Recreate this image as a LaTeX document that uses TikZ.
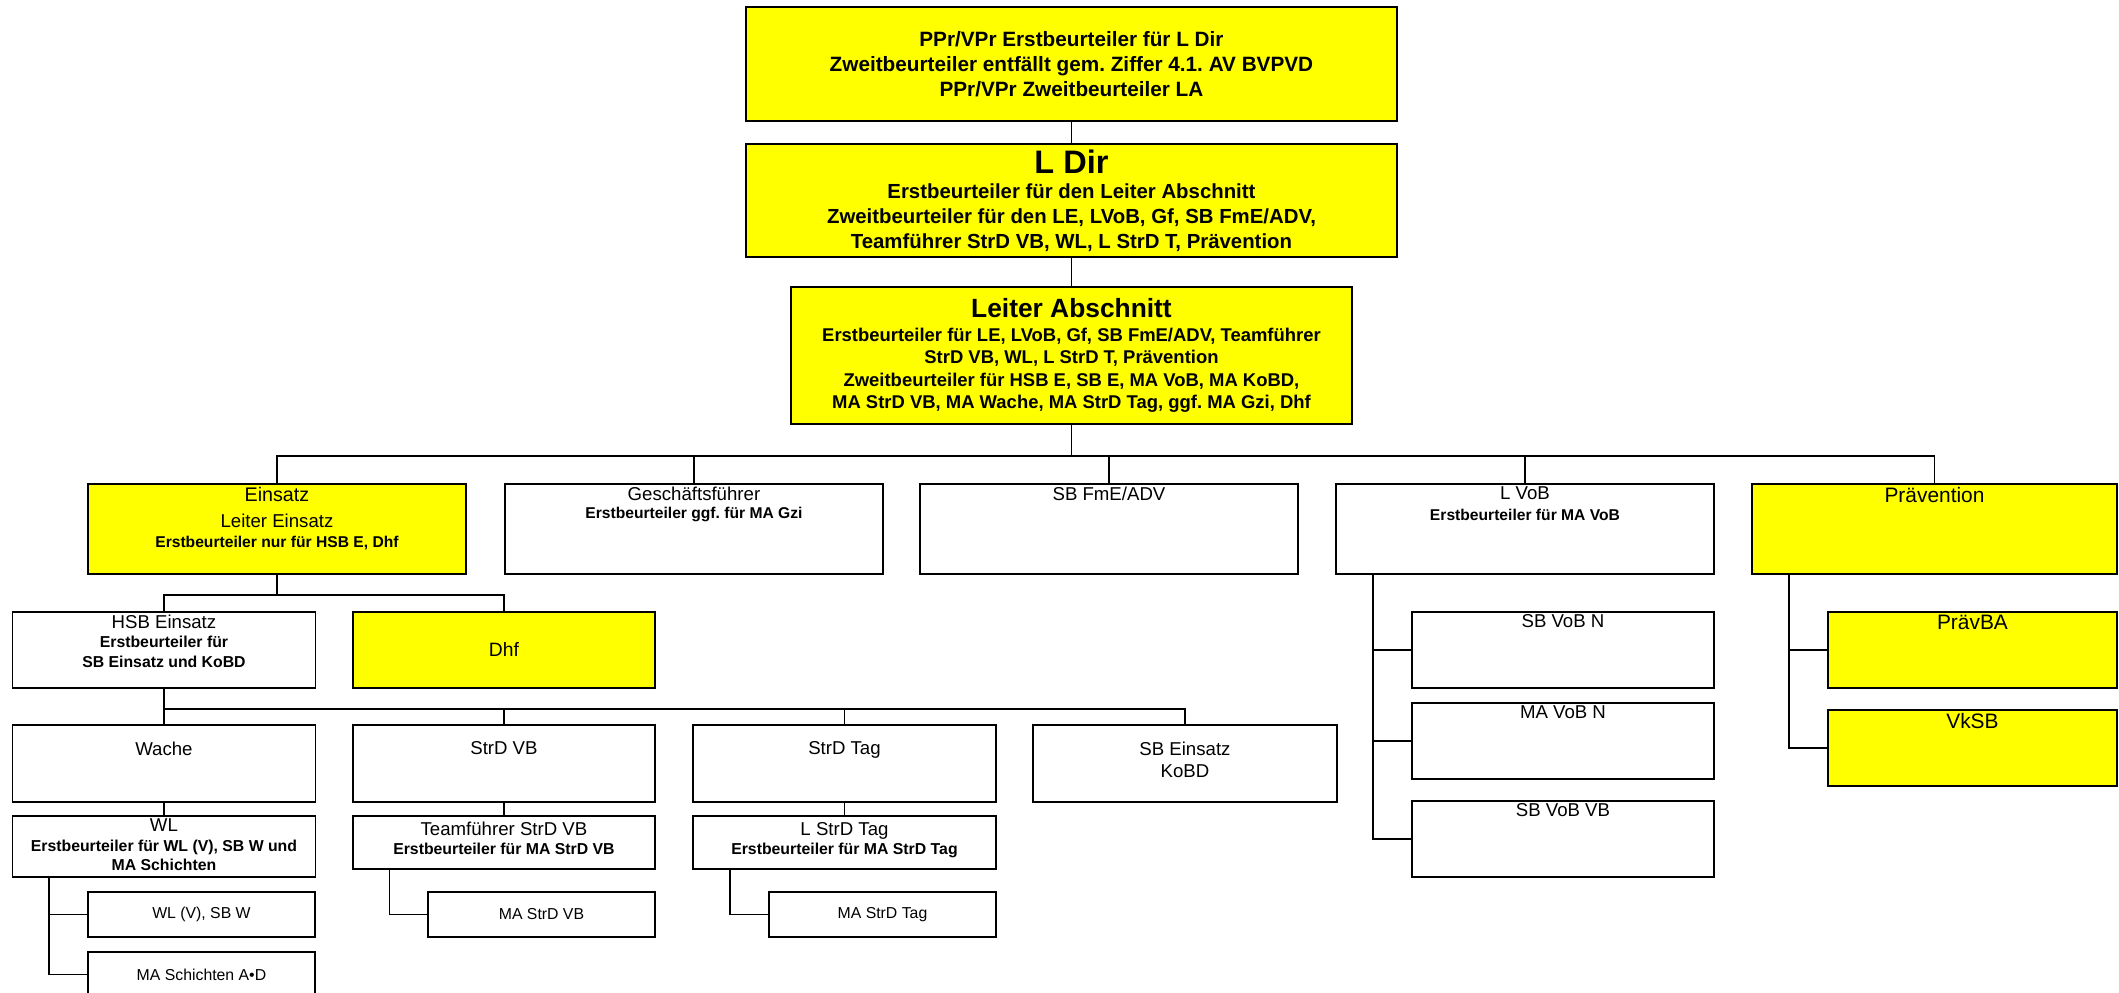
\documentclass[tikz,border=0pt]{standalone}
\usepackage{fontspec}
\setmainfont{Liberation Sans}
\usetikzlibrary{positioning}
\definecolor{orgyellow}{RGB}{255,255,0}
\frenchspacing

\newcommand{\bsub}[2]{{\bfseries\fontsize{#1}{#1}\selectfont #2}}

\begin{document}
\begin{tikzpicture}[x=0.02cm, y=-0.02cm,
    box/.style={draw, line width=1.1pt, inner sep=0pt, anchor=north west},
    ybox/.style={box, fill=orgyellow},
    sz/.style 2 args={minimum width=#1*0.02cm, minimum height=#2*0.02cm},
    head/.style={anchor=north, align=center, inner sep=0pt,
        font=\fontsize{10.6}{11.5}\selectfont},
    big/.style={font=\fontsize{11.9}{12}\selectfont},
    mid/.style={align=center, font=\fontsize{9}{11}\selectfont},
    lnk/.style={line width=0.9pt}]

    \useasboundingbox (0,0) rectangle (2119,993);

    % top of the chart
    \node[ybox, sz={651}{114}, align=center,
        font=\bfseries\fontsize{11.8}{14.2}\selectfont] (ppr) at (745,6)
        {PPr/VPr Erstbeurteiler für L Dir\\
         Zweitbeurteiler entfällt gem. Ziffer 4.1. AV BVPVD\\
         PPr/VPr Zweitbeurteiler LA};
    \node[ybox, sz={651}{113}, align=center,
        font=\bfseries\fontsize{11.6}{14.2}\selectfont] (ldir) at (745,143)
        {{\fontsize{18.5}{18.5}\selectfont L Dir}\\[0pt]
         Erstbeurteiler für den Leiter Abschnitt\\
         Zweitbeurteiler für den LE, LVoB, Gf, SB FmE/ADV,\\
         Teamführer StrD VB, WL, L StrD T, Prävention};
    \node[ybox, sz={561}{137}, align=center,
        font=\bfseries\fontsize{10.5}{12.6}\selectfont] (la) at (790,286)
        {{\fontsize{15}{15}\selectfont Leiter Abschnitt}\\[1pt]
         Erstbeurteiler für LE, LVoB, Gf, SB FmE/ADV, Teamführer\\
         StrD VB, WL, L StrD T, Prävention\\
         Zweitbeurteiler für HSB E, SB E, MA VoB, MA KoBD,\\
         MA StrD VB, MA Wache, MA StrD Tag, ggf. MA Gzi, Dhf};

    \draw[lnk] (ppr) -- (ldir);
    \draw[lnk] (ldir) -- (la);

    % first row
    \node[ybox, sz={378}{90}] (ein) at (87,483) {};
    \node[box, sz={378}{90}] (gf) at (504,483) {};
    \node[box, sz={378}{90}] (sbfme) at (919,483) {};
    \node[box, sz={378}{90}] (lvob) at (1335,483) {};
    \node[ybox, sz={365}{90}] (prae) at (1751,483) {};

    \node[head, below=2pt of ein.north] (ein-t)
        {{\fontsize{11.2}{11.2}\selectfont Einsatz}\\[3.4pt] Leiter Einsatz\\ \bsub{8.9}{Erstbeurteiler nur für HSB E, Dhf}};
    \node[head, below=2pt of gf.north] (gf-t)
        {Geschäftsführer\\[-1.3pt] \bsub{8.9}{Erstbeurteiler ggf. für MA Gzi}};
    \node[head, below=2pt of sbfme.north] (sbfme-t) {SB FmE/ADV};
    \node[head, below=2pt of lvob.north] (lvob-t)
        {L VoB\\[0.5pt] \bsub{8.9}{Erstbeurteiler für MA VoB}};
    \node[head, big, below=2pt of prae.north] (prae-t) {Prävention};

    \foreach \c in {ein,gf,sbfme,lvob,prae}
        \draw[lnk] (la.south) -- ++(0,31) -| (\c.north);

    % Einsatz
    \node[box, sz={303}{76}] (hsb) at (11.5,611) {};
    \node[head, below=2pt of hsb.north] (hsb-t)
        {HSB Einsatz\\[-0.5pt] \bsub{9}{Erstbeurteiler für}\\[-0.5pt] \bsub{9}{SB Einsatz und KoBD}};
    \node[ybox, sz={302}{76}, align=center, font=\fontsize{11}{12}\selectfont] (dhf) at (352,611) {Dhf};

    \foreach \c in {hsb,dhf}
        \draw[lnk] (ein.south) -- ++(0,20) -| (\c.north);

    \node[box, sz={303}{77}] (wache) at (11.5,724) {};
    \node[box, sz={302}{77}] (strdvb) at (352,724) {};
    \node[box, sz={303}{77}] (strdtag) at (692,724) {};
    \node[box, sz={304}{77}] (sbein) at (1032,724) {};
    \node[head, below=10pt of wache.north] (wache-t) {Wache};
    \node[head, below=10pt of strdvb.north] (strdvb-t) {StrD VB};
    \node[head, below=10pt of strdtag.north] (strdtag-t) {StrD Tag};
    \node[head, below=10pt of sbein.north] (sbein-t) {SB Einsatz\\[1pt] KoBD};

    \foreach \c in {wache,strdvb,strdtag,sbein}
        \draw[lnk] (hsb.south) -- ++(0,20) -| (\c.north);

    \node[box, sz={303}{61}] (wl) at (11.5,815) {};
    \node[head, below=2pt of wl.north] (wl-t)
        {WL\\[-0.5pt] \bsub{9}{Erstbeurteiler für WL (V), SB W und}\\[-0.5pt] \bsub{9}{MA Schichten}};
    \node[box, sz={302}{53}] (tf) at (352,815) {};
    \node[head, below=4pt of tf.north] (tf-t)
        {Teamführer StrD VB\\[-0.7pt] \bsub{9}{Erstbeurteiler für MA StrD VB}};
    \node[box, sz={303}{53}] (lstrd) at (692,815) {};
    \node[head, below=4pt of lstrd.north] (lstrd-t)
        {L StrD Tag\\[-0.7pt] \bsub{9}{Erstbeurteiler für MA StrD Tag}};

    \draw[lnk] (wache) -- (wl);
    \draw[lnk] (strdvb) -- (tf);
    \draw[lnk] (strdtag) -- (lstrd);

    \node[box, sz={227}{45}, mid] (wlv) at (87,891) {WL (V), SB W};
    \node[box, sz={227}{45}, mid] (masch) at (87,951) {MA Schichten A•D};
    \node[box, sz={227}{45}, mid] (mastrdvb) at (427,891) {MA StrD VB};
    \node[box, sz={227}{45}, mid] (mastrdtag) at (768,891) {MA StrD Tag};

    \draw[lnk] (wl.south west) ++(37.5,0) |- (wlv.west);
    \draw[lnk] (wl.south west) ++(37.5,0) |- (masch.west);
    \draw[lnk] (tf.south west) ++(37.5,0) |- (mastrdvb.west);
    \draw[lnk] (lstrd.south west) ++(38,0) |- (mastrdtag.west);

    % L VoB
    \node[box, sz={302}{76}] (sbvobn) at (1411,611) {};
    \node[box, sz={302}{76}] (mavobn) at (1411,702) {};
    \node[box, sz={302}{76}] (sbvobvb) at (1411,800) {};
    \node[head, below=2pt of sbvobn.north] (sbvobn-t) {SB VoB N};
    \node[head, below=2pt of mavobn.north] (mavobn-t) {MA VoB N};
    \node[head, below=2pt of sbvobvb.north] (sbvobvb-t) {SB VoB VB};

    \foreach \c in {sbvobn,mavobn,sbvobvb}
        \draw[lnk] (lvob.south west) ++(38,0) |- (\c.west);

    % Praevention
    \node[ybox, sz={289}{76}] (praevba) at (1827,611) {};
    \node[ybox, sz={289}{76}] (vksb) at (1827,709) {};
    \node[head, big, below=2pt of praevba.north] (praevba-t) {PrävBA};
    \node[head, big, below=2pt of vksb.north] (vksb-t) {VkSB};

    \foreach \c in {praevba,vksb}
        \draw[lnk] (prae.south west) ++(38,0) |- (\c.west);

\end{tikzpicture}
\end{document}
